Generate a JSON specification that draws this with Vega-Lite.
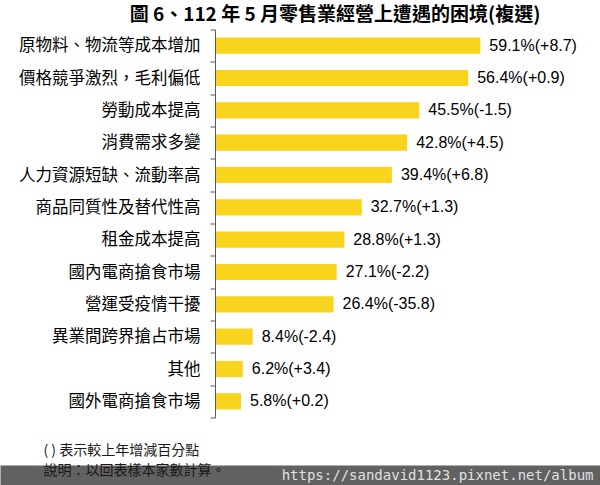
{
  "$schema": "https://vega.github.io/schema/vega-lite/v6.json",
  "width": 600,
  "height": 388,
  "autosize": {"type": "none"},
  "padding": {"top": 29.5, "bottom": 67.5, "left": 0, "right": 0},
  "background": "white",
  "title": {
    "text": "圖 6、112 年 5 月零售業經營上遭遇的困境(複選)",
    "font": "Noto Sans CJK TC",
    "fontSize": 19,
    "fontWeight": "bold",
    "color": "#000000",
    "anchor": "middle",
    "baseline": "bottom",
    "dx": 35,
    "dy": 22,
    "offset": 0
  },
  "data": {
    "values": [
      {"item": "原物料、物流等成本增加", "value": 59.1, "label": "59.1%(+8.7)"},
      {"item": "價格競爭激烈，毛利偏低", "value": 56.4, "label": "56.4%(+0.9)"},
      {"item": "勞動成本提高", "value": 45.5, "label": "45.5%(-1.5)"},
      {"item": "消費需求多變", "value": 42.8, "label": "42.8%(+4.5)"},
      {"item": "人力資源短缺、流動率高", "value": 39.4, "label": "39.4%(+6.8)"},
      {"item": "商品同質性及替代性高", "value": 32.7, "label": "32.7%(+1.3)"},
      {"item": "租金成本提高", "value": 28.8, "label": "28.8%(+1.3)"},
      {"item": "國內電商搶食市場", "value": 27.1, "label": "27.1%(-2.2)"},
      {"item": "營運受疫情干擾", "value": 26.4, "label": "26.4%(-35.8)"},
      {"item": "異業間跨界搶占市場", "value": 8.4, "label": "8.4%(-2.4)"},
      {"item": "其他", "value": 6.2, "label": "6.2%(+3.4)"},
      {"item": "國外電商搶食市場", "value": 5.8, "label": "5.8%(+0.2)"}
    ]
  },
  "encoding": {
    "y": {
      "field": "item",
      "type": "nominal",
      "sort": null,
      "scale": {"paddingInner": 0, "paddingOuter": 0},
      "axis": {
        "title": ["( ) 表示較上年增減百分點", "說明：以回表樣本家數計算。"],
        "titleAngle": 0,
        "titleAlign": "left",
        "titleBaseline": "middle",
        "titleX": -172,
        "titleY": 421,
        "titleFont": "Noto Sans CJK TC",
        "titleFontSize": 14,
        "titleFontWeight": "normal",
        "titleColor": "#1a1a1a",
        "titleLineHeight": 20,
        "offset": -215,
        "tickBand": "extent",
        "tickSize": 5,
        "tickColor": "#595959",
        "domainColor": "#595959",
        "labelFont": "Noto Sans CJK TC",
        "labelFontSize": 16.5,
        "labelColor": "#000000",
        "labelPadding": 10,
        "labelLimit": 400,
        "grid": false,
        "zindex": 2
      }
    },
    "x": {
      "field": "value",
      "type": "quantitative",
      "scale": {"domain": [-47.88, 85.75]},
      "axis": {
        "title": "https://sandavid1123.pixnet.net/album",
        "titleFont": "DejaVu Sans Mono",
        "titleFontSize": 14,
        "titleFontWeight": "normal",
        "titleColor": "#e0e0e0",
        "titleAnchor": "end",
        "titleAlign": "right",
        "titleBaseline": "middle",
        "titleX": 593,
        "titleY": 0,
        "offset": 57.5,
        "domainWidth": 20,
        "domainColor": "#616161",
        "domainCap": "butt",
        "ticks": false,
        "labels": false,
        "grid": false,
        "zindex": 1
      }
    }
  },
  "layer": [
    {
      "mark": {"type": "bar", "color": "#F8D41C", "height": {"band": 0.5}}
    },
    {
      "mark": {
        "type": "text",
        "align": "left",
        "baseline": "middle",
        "dx": 9,
        "font": "Liberation Sans",
        "fontSize": 16,
        "color": "#000000"
      },
      "encoding": {"text": {"field": "label"}}
    }
  ],
  "config": {"view": {"stroke": null}}
}
